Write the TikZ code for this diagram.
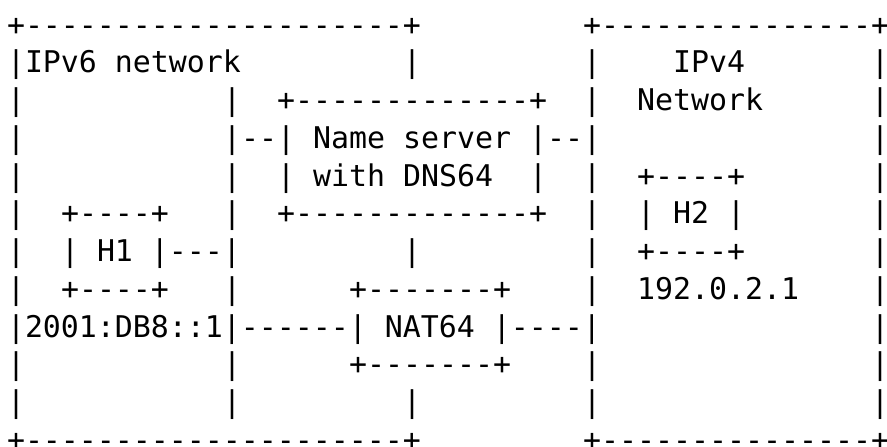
\documentclass[tikz,border=0pt]{standalone}
\usepackage{fontspec}
\setmonofont{DejaVu Sans Mono}
\usetikzlibrary{positioning}
\newcommand{\asciifont}{\ttfamily\fontsize{14.95pt}{18.875pt}\selectfont}

\begin{document}
\begin{tikzpicture}[seg/.style={anchor=base west, inner sep=0pt, outer sep=0pt, font=\asciifont}]
\useasboundingbox (0,0) rectangle (443.5pt,-223pt);
% column / row / text of each run of characters
\foreach \c/\r/\t in {
  0/0/+---------------------+, 32/0/+---------------+,
  0/1/|IPv6 network, 22/1/|, 32/1/|, 37/1/IPv4, 48/1/|,
  0/2/|, 12/2/|, 15/2/+-------------+, 32/2/|, 35/2/Network, 48/2/|,
  0/3/|, 12/3/|--| Name server |--|, 48/3/|,
  0/4/|, 12/4/|, 15/4/| with DNS64, 29/4/|, 32/4/|, 35/4/+----+, 48/4/|,
  0/5/|, 3/5/+----+, 12/5/|, 15/5/+-------------+, 32/5/|, 35/5/| H2 |, 48/5/|,
  0/6/|, 3/6/| H1 |---|, 22/6/|, 32/6/|, 35/6/+----+, 48/6/|,
  0/7/|, 3/7/+----+, 12/7/|, 19/7/+-------+, 32/7/|, 35/7/192.0.2.1, 48/7/|,
  0/8/|2001:DB8::1|------| NAT64 |----|, 48/8/|,
  0/9/|, 12/9/|, 19/9/+-------+, 32/9/|, 48/9/|,
  0/10/|, 12/10/|, 22/10/|, 32/10/|, 48/10/|,
  0/11/+---------------------+, 32/11/+---------------+}
  \node[seg] (s\r-\c) at (3.5pt+\c*9pt, -17.6pt-\r*18.875pt) {\t};
\end{tikzpicture}
\end{document}
